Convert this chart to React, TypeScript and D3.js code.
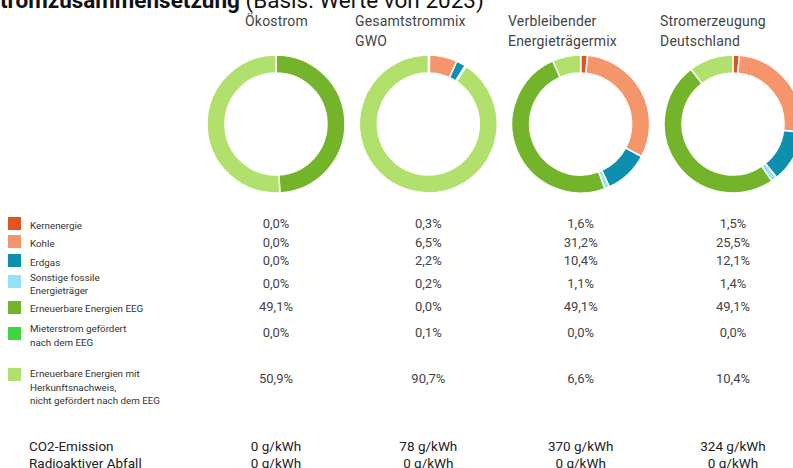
import { FC, useRef, useEffect } from 'react'
import * as d3 from 'd3'

// Energieträger (Reihenfolge wie in der Legende)
const categories = [
  'Kernenergie',
  'Kohle',
  'Erdgas',
  'Sonstige fossile Energieträger',
  'Erneuerbare Energien EEG',
  'Mieterstrom gefördert nach dem EEG',
  'Erneuerbare Energien mit Herkunftsnachweis, nicht gefördert nach dem EEG',
]
const legendLines = [
  ['Kernenergie'],
  ['Kohle'],
  ['Erdgas'],
  ['Sonstige fossile', 'Energieträger'],
  ['Erneuerbare Energien EEG'],
  ['Mieterstrom gefördert', 'nach dem EEG'],
  ['Erneuerbare Energien mit', 'Herkunftsnachweis,', 'nicht gefördert nach dem EEG'],
]
const colors = ['#e2531f', '#f5956b', '#0f8fae', '#93e2f6', '#74b42b', '#3fd53c', '#b2e06c']

const columns = ['Ökostrom', 'Gesamtstrommix GWO', 'Verbleibender Energieträgermix', 'Stromerzeugung Deutschland']
const headerLines = [['Ökostrom'], ['Gesamtstrommix', 'GWO'], ['Verbleibender', 'Energieträgermix'], ['Stromerzeugung', 'Deutschland']]

const oekostrom = [0.0, 0.0, 0.0, 0.0, 49.1, 0.0, 50.9]
const gesamtstrommix = [0.3, 6.5, 2.2, 0.2, 0.0, 0.1, 90.7]
const verbleibend = [1.6, 31.2, 10.4, 1.1, 49.1, 0.0, 6.6]
const deutschland = [1.5, 25.5, 12.1, 1.4, 49.1, 0.0, 10.4]
const series = [oekostrom, gesamtstrommix, verbleibend, deutschland]

const co2 = [0, 78, 370, 324]
const radioaktiv = [0, 0, 0, 0]

const App: FC = () => {
  const svgRef = useRef<SVGSVGElement>(null)

  useEffect(() => {
    if (!svgRef.current) return
    document.body.style.margin = '0'

    const svg = d3.select(svgRef.current)
    svg.selectAll('*').remove()

    const width = 793
    const height = 468
    const font = 'Roboto, "Noto Sans", sans-serif'
    const textColor = '#444'
    svg.attr('width', width).attr('height', height).style('display', 'block')

    const xScale = d3.scalePoint<string>().domain(columns).range([276, 733])
    const headerX = [245, 355, 508, 660]
    const rowY = [223, 242, 260, 283, 306, 332, 378]
    const squareY = [217, 235, 254, 275, 301, 327, 368]
    const labelY = [229, 247, 266, [281, 294], 312, [332, 346], [377, 391, 404]]
    const fmt = (v: number) => v.toFixed(1).replace('.', ',') + '%'

    // Titel (links abgeschnitten)
    const probe = svg.append('text').attr('font-family', font).attr('font-size', 22.5)
      .attr('font-weight', 'bold').text('S')
    const sWidth = (probe.node() as SVGTextElement).getComputedTextLength()
    probe.remove()
    const title = svg.append('text')
      .attr('x', -sWidth)
      .attr('y', 8)
      .attr('font-family', font)
      .attr('font-size', 22.5)
      .attr('fill', '#111')
    title.append('tspan').attr('font-weight', 'bold').text('Stromzusammensetzung')
    title.append('tspan').text(' (Basis: Werte von 2023)')

    // Spaltenköpfe
    headerLines.forEach((lines, i) => {
      const t = svg.append('text')
        .attr('font-family', font)
        .attr('font-size', 14)
        .attr('letter-spacing', 0.2)
        .attr('fill', textColor)
      lines.forEach((l, j) => {
        t.append('tspan').attr('x', headerX[i]).attr('y', 26 + j * 20).text(l)
      })
    })

    // Ringdiagramme
    const pie = d3.pie<number>().sort(null).value(d => d)
    const arc = d3.arc<d3.PieArcDatum<number>>().innerRadius(51).outerRadius(69)
    series.forEach((vals, i) => {
      const g = svg.append('g')
        .attr('transform', `translate(${xScale(columns[i])},124)`)
      g.selectAll('path')
        .data(pie(vals).map((d, k) => ({ ...d, k })))
        .join('path')
        .attr('d', d => arc(d) || '')
        .attr('fill', d => colors[d.k])
        .attr('stroke', '#fff')
        .attr('stroke-width', d => (d.value > 0 ? 1.5 : 0))
    })

    // Legende
    categories.forEach((_, k) => {
      svg.append('rect')
        .attr('x', 8).attr('y', squareY[k])
        .attr('width', 13).attr('height', 13)
        .attr('fill', colors[k])
      const ys = labelY[k]
      const lines = legendLines[k]
      const t = svg.append('text')
        .attr('font-family', font)
        .attr('font-size', 9.8)
        .attr('fill', '#333')
      lines.forEach((l, j) => {
        t.append('tspan').attr('x', 30)
          .attr('y', Array.isArray(ys) ? ys[j] : ys)
          .text(l)
      })
    })

    // Werte
    series.forEach((vals, i) => {
      svg.append('g')
        .selectAll('text')
        .data(vals)
        .join('text')
        .attr('x', xScale(columns[i]) || 0)
        .attr('y', (_, k) => rowY[k])
        .attr('dy', '0.35em')
        .attr('text-anchor', 'middle')
        .attr('font-family', font)
        .attr('font-size', 13)
        .attr('fill', textColor)
        .text(d => fmt(d))
    })

    // Emissionen
    const bottomRows: [string, number[], number][] = [
      ['CO2-Emission', co2, 446],
      ['Radioaktiver Abfall', radioaktiv, 463],
    ]
    bottomRows.forEach(([label, vals, y]) => {
      svg.append('text')
        .attr('x', 29).attr('y', y).attr('dy', '0.35em')
        .attr('font-family', font).attr('font-size', 13.5)
        .attr('fill', '#222')
        .text(label)
      svg.append('g')
        .selectAll('text')
        .data(vals)
        .join('text')
        .attr('x', (_, i) => xScale(columns[i]) || 0)
        .attr('y', y)
        .attr('dy', '0.35em')
        .attr('text-anchor', 'middle')
        .attr('font-family', font)
        .attr('font-size', 13.5)
        .attr('fill', '#222')
        .text(d => `${d} g/kWh`)
    })
  }, [])

  return (
    <div>
      <svg ref={svgRef} />
    </div>
  )
}

export default App
